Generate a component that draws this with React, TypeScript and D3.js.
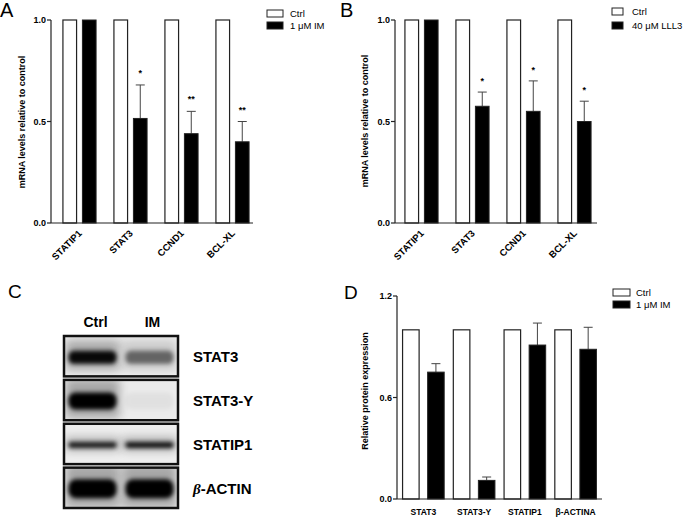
import React from "react";
import * as d3 from "d3";

// ---- data ----
const genesAB = ["STATIP1", "STAT3", "CCND1", "BCL-XL"];
const ctrlAB = [1, 1, 1, 1];
const imA = [1.0, 0.515, 0.44, 0.4];
const imAErr = [1.0, 0.68, 0.55, 0.5];
const imAStars = ["", "*", "**", "**"];
const lllB = [1.0, 0.575, 0.55, 0.5];
const lllBErr = [1.0, 0.645, 0.7, 0.6];
const lllBStars = ["", "*", "*", "*"];

const proteinsD = ["STAT3", "STAT3-Y", "STATIP1", "β-ACTINA"];
const ctrlD = [1, 1, 1, 1];
const imD = [0.75, 0.11, 0.91, 0.885];
const imDErr = [0.8, 0.13, 1.04, 1.015];

const ticksAB = [0, 0.5, 1.0];
const ticksD = [0, 0.6, 1.2];

const blotLanes = ["Ctrl", "IM"];
const blotRows = ["STAT3", "STAT3-Y", "STATIP1", "β-ACTIN"];
const blotCtrl = [0.95, 1.0, 0.85, 1.0];
const blotIM = [0.5, 0.04, 0.9, 1.0];

const FONT = "'Liberation Sans', Arial, Helvetica, sans-serif";
const LINE = "#222";

interface PanelProps {
  categories: string[];
  ctrl: number[];
  treated: number[];
  errTop: number[];
  stars?: string[];
  yMax: number;
  yTicks: number[];
  axisX: number;
  yTop: number;
  yBottom: number;
  xRange: [number, number];
  xAxisEnd: number;
  groupPad: number;
  barPad: number;
  yLabel: string;
  yLabelX: number;
  yLabelY: number;
  rotateLabels: boolean;
  legendLabels: string[];
  legendX: number;
  legendY: number[];
  legendW: number;
  legendH: number;
  legendTextX: number;
  starOffset: number;
}

const BarPanel: React.FC<PanelProps> = (p) => {
  const y = d3.scaleLinear().domain([0, p.yMax]).range([p.yBottom, p.yTop]);
  const x0 = d3
    .scaleBand<string>()
    .domain(p.categories)
    .range(p.xRange)
    .paddingInner(p.groupPad)
    .paddingOuter(p.groupPad / 2);
  const x1 = d3
    .scaleBand<string>()
    .domain(["ctrl", "trt"])
    .range([0, x0.bandwidth()])
    .paddingInner(p.barPad);

  return (
    <g fontFamily={FONT}>
      {/* bars */}
      {p.categories.map((c, i) => {
        const gx = x0(c) ?? 0;
        const cx = gx + (x1("trt") ?? 0) + x1.bandwidth() / 2;
        return (
          <g key={c}>
            <rect
              x={gx + (x1("ctrl") ?? 0)}
              y={y(p.ctrl[i])}
              width={x1.bandwidth()}
              height={p.yBottom - y(p.ctrl[i])}
              fill="#fff"
              stroke={LINE}
              strokeWidth={1.2}
            />
            {p.errTop[i] > p.treated[i] && (
              <g stroke="#444" strokeWidth={1}>
                <line x1={cx} x2={cx} y1={y(p.treated[i])} y2={y(p.errTop[i])} />
                <line x1={cx - 4.5} x2={cx + 4.5} y1={y(p.errTop[i])} y2={y(p.errTop[i])} />
              </g>
            )}
            <rect
              x={gx + (x1("trt") ?? 0)}
              y={y(p.treated[i])}
              width={x1.bandwidth()}
              height={p.yBottom - y(p.treated[i])}
              fill="#000"
              stroke={LINE}
              strokeWidth={1}
            />
            {p.stars && p.stars[i] && (
              <text
                x={cx}
                y={y(p.errTop[i]) - p.starOffset}
                textAnchor="middle"
                fontSize={9}
                fontWeight="bold"
              >
                {p.stars[i]}
              </text>
            )}
          </g>
        );
      })}

      {/* axes */}
      <line x1={p.axisX} x2={p.axisX} y1={p.yTop} y2={p.yBottom} stroke={LINE} strokeWidth={1.2} />
      <line x1={p.axisX} x2={p.xAxisEnd} y1={p.yBottom} y2={p.yBottom} stroke={LINE} strokeWidth={1.2} />
      {p.yTicks.map((t) => (
        <g key={t}>
          <line x1={p.axisX - 4} x2={p.axisX} y1={y(t)} y2={y(t)} stroke={LINE} strokeWidth={1.2} />
          <text
            x={p.axisX - 5}
            y={y(t) + 3.2}
            textAnchor="end"
            fontSize={9}
            fontWeight="bold"
          >
            {d3.format(".1f")(t)}
          </text>
        </g>
      ))}
      {p.categories.map((c) => {
        const cx = (x0(c) ?? 0) + x0.bandwidth() / 2;
        return p.rotateLabels ? (
          <text
            key={c}
            transform={`translate(${cx + 3},${p.yBottom + 11}) rotate(-45)`}
            textAnchor="end"
            fontSize={9.5}
            fontWeight="bold"
          >
            {c}
          </text>
        ) : (
          <text
            key={c}
            x={cx}
            y={p.yBottom + 16}
            textAnchor="middle"
            fontSize={8.5}
            fontWeight="bold"
          >
            {c}
          </text>
        );
      })}
      <text
        transform={`translate(${p.yLabelX},${p.yLabelY}) rotate(-90)`}
        textAnchor="middle"
        fontSize={9}
        fontWeight="bold"
      >
        {p.yLabel}
      </text>

      {/* legend */}
      {p.legendLabels.map((l, i) => (
        <g key={l}>
          <rect
            x={p.legendX}
            y={p.legendY[i]}
            width={p.legendW}
            height={p.legendH}
            fill={i === 0 ? "#fff" : "#000"}
            stroke={LINE}
            strokeWidth={1}
          />
          <text x={p.legendTextX} y={p.legendY[i] + p.legendH - 0.5} fontSize={9.5}>
            {l}
          </text>
        </g>
      ))}
    </g>
  );
};

const bandThickness = [13, 17, 6, 19];

const Blot: React.FC = () => {
  const rows = d3.scaleBand<string>().domain(blotRows).range([336, 508]).paddingInner(0.08);
  const lanes = d3.scaleBand<string>().domain(blotLanes).range([64, 178]);
  const frameX = 64;
  const frameW = 114;
  return (
    <g fontFamily={FONT}>
      <defs>
        <filter id="bandBlur" x="-40%" y="-200%" width="180%" height="500%">
          <feGaussianBlur stdDeviation="2.2" />
        </filter>
        <filter id="haloBlur" x="-40%" y="-200%" width="180%" height="500%">
          <feGaussianBlur stdDeviation="5" />
        </filter>
        {blotRows.map((r, i) => (
          <clipPath id={`clip${i}`} key={r}>
            <rect x={frameX} y={rows(r)} width={frameW} height={rows.bandwidth()} />
          </clipPath>
        ))}
      </defs>
      {blotLanes.map((l) => (
        <text
          key={l}
          x={(lanes(l) ?? 0) + lanes.bandwidth() / 2 + 3}
          y={327}
          textAnchor="middle"
          fontSize={14}
          fontWeight="bold"
        >
          {l}
        </text>
      ))}
      {blotRows.map((r, i) => {
        const ry = rows(r) ?? 0;
        const cy = ry + rows.bandwidth() / 2 + 1;
        const th = bandThickness[i];
        const vals = [blotCtrl[i], blotIM[i]];
        return (
          <g key={r}>
            <rect x={frameX} y={ry} width={frameW} height={rows.bandwidth()} fill="#eeeeee" />
            <g clipPath={`url(#clip${i})`}>
              {blotLanes.map((l, j) => {
                const lx = (lanes(l) ?? 0) + lanes.bandwidth() / 2;
                const v = vals[j];
                return (
                  <g key={l}>
                    <rect
                      x={lx - 27}
                      y={cy - th * 1.3}
                      width={54}
                      height={th * 2.3}
                      fill="#000"
                      opacity={v * 0.3}
                      filter="url(#haloBlur)"
                    />
                    <rect
                      x={lx - 24}
                      y={cy - th / 2}
                      width={48}
                      height={th}
                      rx={th / 2.5}
                      fill="#000"
                      opacity={v}
                      filter="url(#bandBlur)"
                    />
                  </g>
                );
              })}
            </g>
            <rect
              x={frameX}
              y={ry}
              width={frameW}
              height={rows.bandwidth()}
              fill="none"
              stroke="#111"
              strokeWidth={2.5}
            />
            <text x={193} y={cy + 5} fontSize={15} fontWeight="bold">
              {r.startsWith("β") ? (
                <>
                  <tspan fontFamily="'Liberation Serif', serif" fontStyle="italic">
                    β
                  </tspan>
                  {r.slice(1)}
                </>
              ) : (
                r
              )}
            </text>
          </g>
        );
      })}
    </g>
  );
};

const App: React.FC = () => {
  return (
    <svg
      width={685}
      height={518}
      style={{ position: "absolute", left: 0, top: 0, background: "#fff" }}
    >
      <rect width={685} height={518} fill="#fff" />
      <g fontFamily={FONT}>
        <text x={0} y={17} fontSize={20}>A</text>
        <text x={340} y={17} fontSize={20}>B</text>
        <text x={8} y={298} fontSize={19}>C</text>
        <text x={344} y={299} fontSize={19}>D</text>
      </g>

      <BarPanel
        categories={genesAB}
        ctrl={ctrlAB}
        treated={imA}
        errTop={imAErr}
        stars={imAStars}
        yMax={1}
        yTicks={ticksAB}
        axisX={51}
        yTop={20}
        yBottom={223}
        xRange={[54, 258]}
        xAxisEnd={253}
        groupPad={0.35}
        barPad={0.3}
        yLabel="mRNA levels relative to control"
        yLabelX={25}
        yLabelY={122}
        rotateLabels={true}
        legendLabels={["Ctrl", "1 μM IM"]}
        legendX={267}
        legendY={[10, 22]}
        legendW={16}
        legendH={7}
        legendTextX={290}
        starOffset={9}
      />

      <BarPanel
        categories={genesAB}
        ctrl={ctrlAB}
        treated={lllB}
        errTop={lllBErr}
        stars={lllBStars}
        yMax={1}
        yTicks={ticksAB}
        axisX={395}
        yTop={20}
        yBottom={223}
        xRange={[396, 600]}
        xAxisEnd={597}
        groupPad={0.35}
        barPad={0.3}
        yLabel="mRNA levels relative to control"
        yLabelX={368}
        yLabelY={121}
        rotateLabels={true}
        legendLabels={["Ctrl", "40 μM LLL3"]}
        legendX={612}
        legendY={[8, 22]}
        legendW={11}
        legendH={7}
        legendTextX={632}
        starOffset={8}
      />

      <Blot />

      <BarPanel
        categories={proteinsD}
        ctrl={ctrlD}
        treated={imD}
        errTop={imDErr}
        yMax={1.2}
        yTicks={ticksD}
        axisX={397}
        yTop={296}
        yBottom={499}
        xRange={[398, 601]}
        xAxisEnd={602}
        groupPad={0.18}
        barPad={0.34}
        yLabel="Relative protein expression"
        yLabelX={368}
        yLabelY={391}
        rotateLabels={false}
        legendLabels={["Ctrl", "1 μM IM"]}
        legendX={613}
        legendY={[289, 301]}
        legendW={17}
        legendH={7}
        legendTextX={636}
        starOffset={9}
      />
    </svg>
  );
};

export default App;
